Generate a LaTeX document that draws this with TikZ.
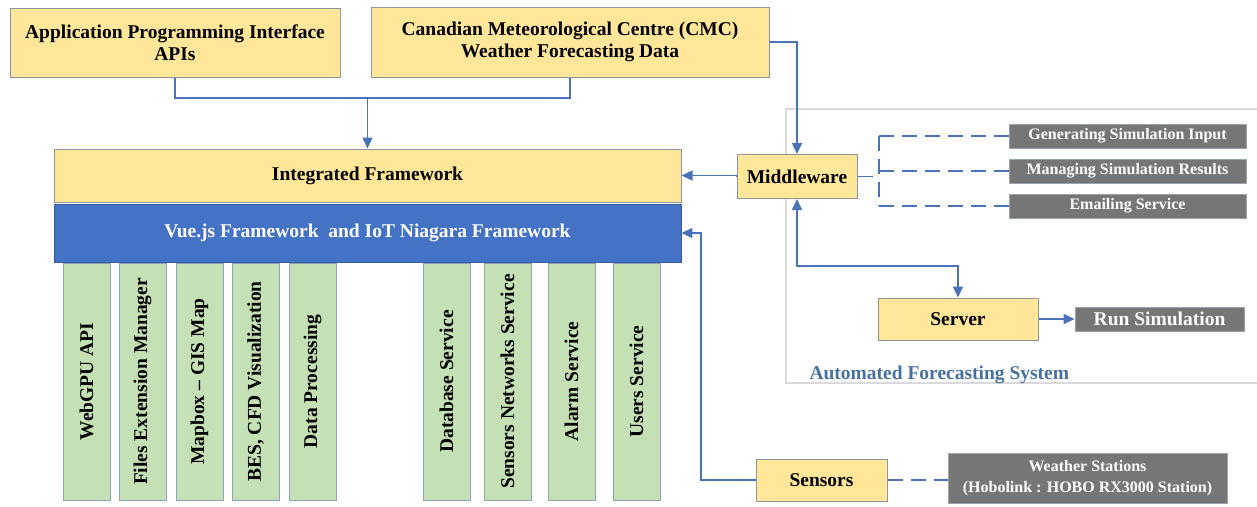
\documentclass[tikz,border=0pt]{standalone}
\usepackage{fontspec}
\setmainfont{Liberation Serif}
\usetikzlibrary{arrows.meta}

\definecolor{boxyellow}{HTML}{FFE699}
\definecolor{yellowedge}{HTML}{8C949C}
\definecolor{barblue}{HTML}{4472C4}
\definecolor{colgreen}{HTML}{C5E0B4}
\definecolor{greenedge}{HTML}{8EA3B8}
\definecolor{darkgrey}{HTML}{767676}
\definecolor{greyedge}{HTML}{9AA3AD}
\definecolor{linkblue}{HTML}{4A72B8}
\definecolor{framegrey}{HTML}{D9D9D9}
\definecolor{titleblue}{HTML}{46709E}

\tikzset{
  ybox/.style={draw=yellowedge, fill=boxyellow, line width=1pt, inner sep=0pt,
    align=center, text=black, font=\bfseries\fontsize{19.5}{22}\selectfont},
  bluebar/.style={draw=barblue!80!black, fill=barblue, line width=0.8pt, inner sep=0pt,
    text=white, font=\bfseries\fontsize{19.5}{22}\selectfont},
  colbox/.style={draw=greenedge, fill=colgreen, line width=0.9pt, inner sep=0pt,
    rotate=90, minimum width=237pt, minimum height=47pt,
    font=\bfseries\fontsize{19.5}{22}\selectfont},
  gbox/.style={draw=greyedge, fill=darkgrey, line width=0.8pt, inner sep=0pt,
    align=center, text=white, font=\bfseries\fontsize{16}{21}\selectfont},
  link/.style={draw=linkblue, line width=1.5pt},
  arr/.style={link, -{Triangle[length=11pt,width=10pt]}},
  dlink/.style={draw=linkblue, line width=1.5pt, dash pattern=on 15pt off 8pt},
}

\begin{document}
\begin{tikzpicture}[x=1pt, y=-1pt]
\useasboundingbox (0,0) rectangle (1257,506);

% frame of the automated forecasting system
\draw[framegrey, line width=1.2pt] (1257,109) -- (786,109) -- (786,383) -- (1257,383);
\node[anchor=west, text=titleblue, font=\bfseries\fontsize{19.5}{22}\selectfont]
  (afs) at (806,375) {Automated Forecasting System};

% data sources
\node[ybox, minimum width=330pt, minimum height=69pt] (api) at (175,42.5)
  {Application Programming Interface\\APIs};
\node[ybox, minimum width=398pt, minimum height=70pt] (cmc) at (570,42)
  {Canadian Meteorological Centre (CMC)\\Weather Forecasting Data};

% framework stack
\node[ybox, minimum width=627pt, minimum height=53pt] (integ) at (367.5,175.5)
  {Integrated Framework};
\node[bluebar, minimum width=627pt, minimum height=58pt] (vue) at (367.5,233)
  {Vue.js Framework\ \ and IoT Niagara Framework};

% service columns
\node[colbox] (webgpu) at (86.5,381.5)  {WebGPU API};
\node[colbox] (files)  at (142.5,381.5) {Files Extension Manager};
\node[colbox] (mapbox) at (199.5,381.5) {Mapbox -- GIS Map};
\node[colbox] (bes)    at (255.5,381.5) {BES, CFD Visualization};
\node[colbox] (datap)  at (312.5,381.5) {Data Processing};
\node[colbox] (dbase)  at (446.5,381.5) {Database Service};
\node[colbox] (sensnet) at (507.5,381.5) {Sensors Networks Service};
\node[colbox] (alarm)  at (571.5,381.5) {Alarm Service};
\node[colbox] (users)  at (636.5,381.5) {Users Service};

% middleware and its services
\node[ybox, minimum width=120pt, minimum height=44pt] (mw) at (797,176.5) {Middleware};
\node[gbox, minimum width=237pt, minimum height=24pt] (gen) at (1127.5,136) {Generating Simulation Input};
\node[gbox, minimum width=237pt, minimum height=24pt] (man) at (1127.5,171) {Managing Simulation Results};
\node[gbox, minimum width=237pt, minimum height=24pt] (mail) at (1127.5,206) {Emailing Service};

% server
\node[ybox, minimum width=160pt, minimum height=42pt] (server) at (958,319) {Server};
\node[gbox, minimum width=169pt, minimum height=24pt, font=\bfseries\fontsize{19.5}{22}\selectfont]
  (run) at (1159.5,319) {Run Simulation};

% sensors
\node[ybox, minimum width=131pt, minimum height=42pt] (sens) at (821.5,480) {Sensors};
\node[gbox, minimum width=279pt, minimum height=50pt] (wst) at (1087.5,478)
  {Weather Stations\\(Hobolink : HOBO RX3000 Station)};

% connectors
\coordinate (join) at (367.5,98);
\draw[link] (api.south) |- (join);
\draw[link] (cmc.south) |- (join);
\draw[arr] (join) -- (integ.north);
\draw[arr] (cmc.east) -| (mw.north);
\draw[arr] (mw.west) -- (integ.east -| mw.west) -- (integ.east);

\coordinate (mwsrv) at (797,266);
\draw[link, {Triangle[length=11pt,width=10pt]}-{Triangle[length=11pt,width=10pt]}]
  (mw.south) -- (mwsrv) -| (server.north);
\draw[arr] (server.east) -- (run.west);

\coordinate (sensturn) at (701,480);
\draw[arr] (sens.west) -- (sensturn) |- (vue.east);

\coordinate (tapx) at (879,176.5);
\draw[dlink] (mw.east) -- (tapx);
\draw[dlink] (879,136) -- (879,206);
\draw[dlink] (879,136) -- (gen.west);
\draw[dlink] (879,171) -- (man.west);
\draw[dlink] (879,206) -- (mail.west);
\draw[dlink] (sens.east) -- (wst.west |- sens.east);
\end{tikzpicture}
\end{document}
